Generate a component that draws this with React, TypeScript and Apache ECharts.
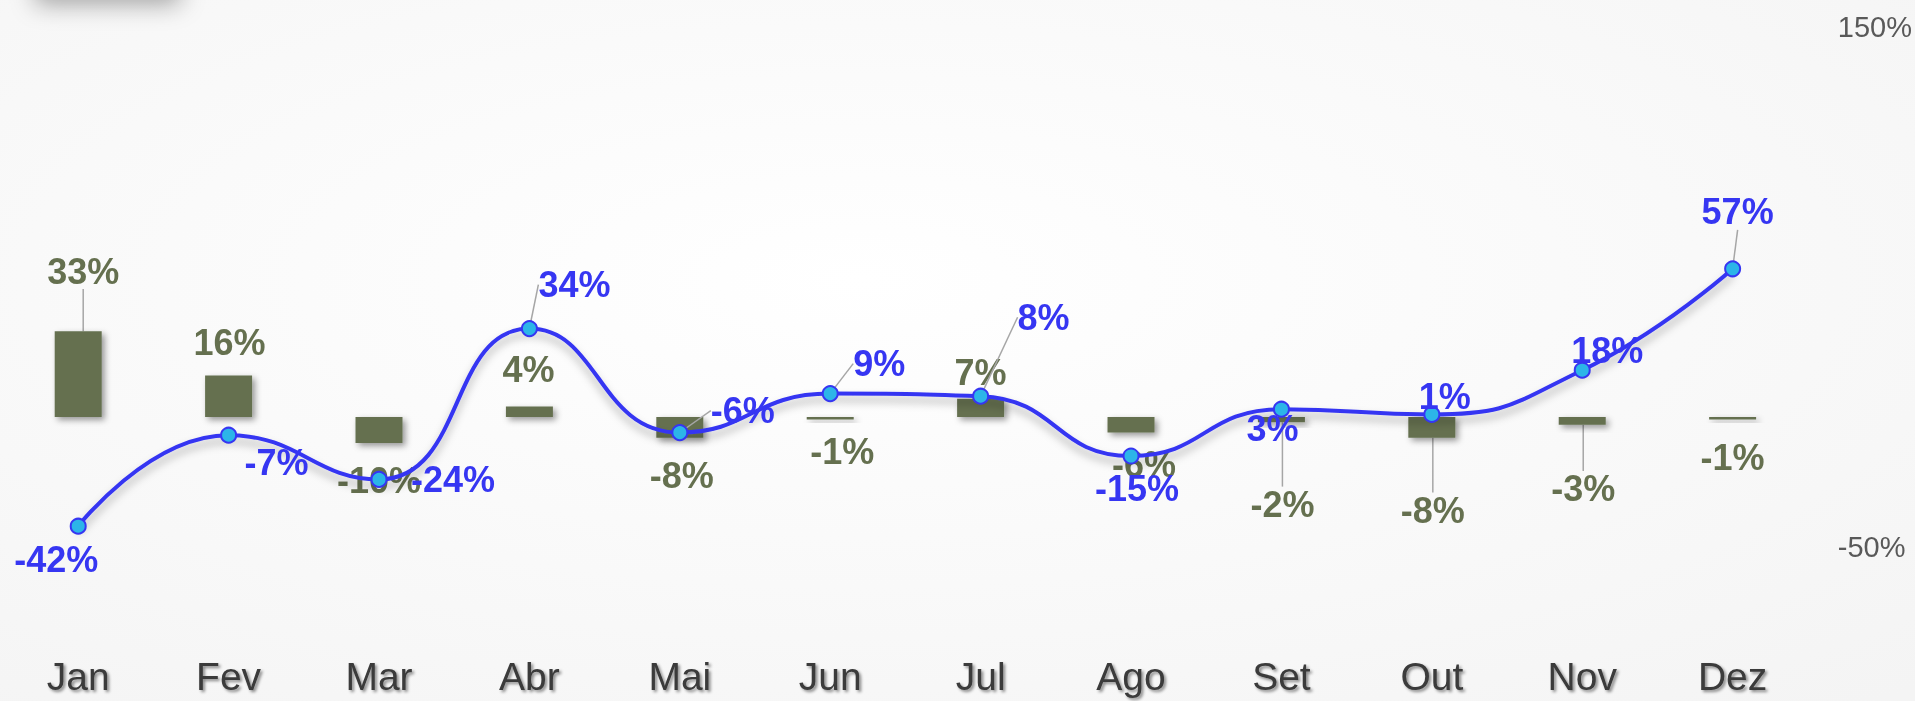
import React, { useEffect, useRef } from "react";
import * as echarts from "echarts";

const categories = ["Jan", "Fev", "Mar", "Abr", "Mai", "Jun", "Jul", "Ago", "Set", "Out", "Nov", "Dez"];
const barValues = [33, 16, -10, 4, -8, -1, 7, -6, -2, -8, -3, -1];
const lineValues = [-42, -7, -24, 34, -6, 9, 8, -15, 3, 1, 18, 57];
const axisMin = -50;
const axisMax = 150;
const shownTicks = [-50, 150];

// label displacement (px) relative to the default label spot, and leader-line flags
const barLabelShift = [[5, -103], [1, -54], [0, 50], [-1, -42], [2, 48], [12, 33], [0, -35], [13, 40], [1, 85], [1, 83], [1, 68], [0, 39]];
const barLeader = [true, false, false, false, false, false, false, false, true, true, true, false];
const lineLabelShift = [[-22, 33], [48, 27], [74, 0], [45, -44], [63, -22], [49, -30], [63, -79], [6, 32], [-9, 19], [13, -18], [25, -20], [5, -57]];
const lineLeader = [false, false, false, true, true, true, true, false, false, false, false, true];

const OLIVE = "#65704F";
const BLUE = "#3636F2";
const FONT = "'Liberation Sans', Arial, sans-serif";

export default function App() {
  const ref = useRef<HTMLDivElement>(null);
  useEffect(() => {
    if (!ref.current) return;
    const chart = echarts.init(ref.current, null, { renderer: "svg" });
    chart.setOption({
      animation: false,
      backgroundColor: {
        type: "radial",
        x: 0.45,
        y: 0.4,
        r: 0.8,
        colorStops: [
          { offset: 0, color: "#FFFFFF" },
          { offset: 1, color: "#F4F4F4" },
        ],
      },
      graphic: [
        {
          type: "rect",
          left: 35,
          top: -40,
          shape: { width: 145, height: 40 },
          style: { fill: "#FFFFFF", shadowBlur: 25, shadowColor: "rgba(0,0,0,0.35)", shadowOffsetY: 4 },
        },
      ],
      grid: { left: 3, right: 105, top: 27, bottom: 154, containLabel: false },
      xAxis: {
        type: "category",
        data: categories,
        boundaryGap: true,
        axisLine: { show: false },
        axisTick: { show: false },
        axisLabel: {
          margin: 110,
          fontSize: 39,
          fontFamily: FONT,
          color: "#3A3A3A",
          textShadowColor: "rgba(0,0,0,0.45)",
          textShadowBlur: 3,
          textShadowOffsetX: 2,
          textShadowOffsetY: 2,
        },
      },
      yAxis: {
        type: "value",
        position: "right",
        min: axisMin,
        max: axisMax,
        interval: 50,
        splitLine: { show: false },
        axisLine: { show: false },
        axisTick: { show: false },
        axisLabel: {
          margin: 30,
          fontSize: 29,
          fontFamily: FONT,
          color: "#595959",
          formatter: (v: number) => (shownTicks.indexOf(v) >= 0 ? v + "%" : ""),
        },
      },
      series: [
        {
          type: "bar",
          barWidth: 47,
          data: barValues.map((v, i) => ({ value: v, labelLine: { show: barLeader[i] } })),
          itemStyle: {
            color: OLIVE,
            shadowColor: "rgba(0,0,0,0.4)",
            shadowBlur: 6,
            shadowOffsetX: 3,
            shadowOffsetY: 3,
          },
          label: {
            show: true,
            position: "inside",
            formatter: "{c}%",
            color: OLIVE,
            fontSize: 36,
            fontWeight: "bold",
            fontFamily: FONT,
            textBorderWidth: 0,
          },
          labelLine: { show: false, lineStyle: { color: "#A6A6A6", width: 1.5 } },
          labelLayout: (p: any) => ({ dx: barLabelShift[p.dataIndex][0], dy: barLabelShift[p.dataIndex][1] }),
          z: 2,
        },
        {
          type: "line",
          smooth: 0.5,
          data: lineValues.map((v, i) => ({ value: v, labelLine: { show: lineLeader[i] } })),
          symbol: "circle",
          symbolSize: 15,
          lineStyle: {
            color: BLUE,
            width: 4,
            shadowColor: "rgba(0,0,0,0.3)",
            shadowBlur: 8,
            shadowOffsetY: 6,
          },
          itemStyle: { color: "#2CB5E8", borderColor: BLUE, borderWidth: 2 },
          label: {
            show: true,
            position: "inside",
            formatter: "{c}%",
            color: BLUE,
            fontSize: 36,
            fontWeight: "bold",
            fontFamily: FONT,
            textBorderWidth: 0,
          },
          labelLine: { show: false, lineStyle: { color: "#A6A6A6", width: 1.5 } },
          labelLayout: (p: any) => ({ dx: lineLabelShift[p.dataIndex][0], dy: lineLabelShift[p.dataIndex][1] }),
          z: 3,
        },
      ],
    });
    return () => chart.dispose();
  }, []);
  return <div ref={ref} style={{ position: "fixed", left: 0, top: 0, width: 1915, height: 701 }} />;
}
